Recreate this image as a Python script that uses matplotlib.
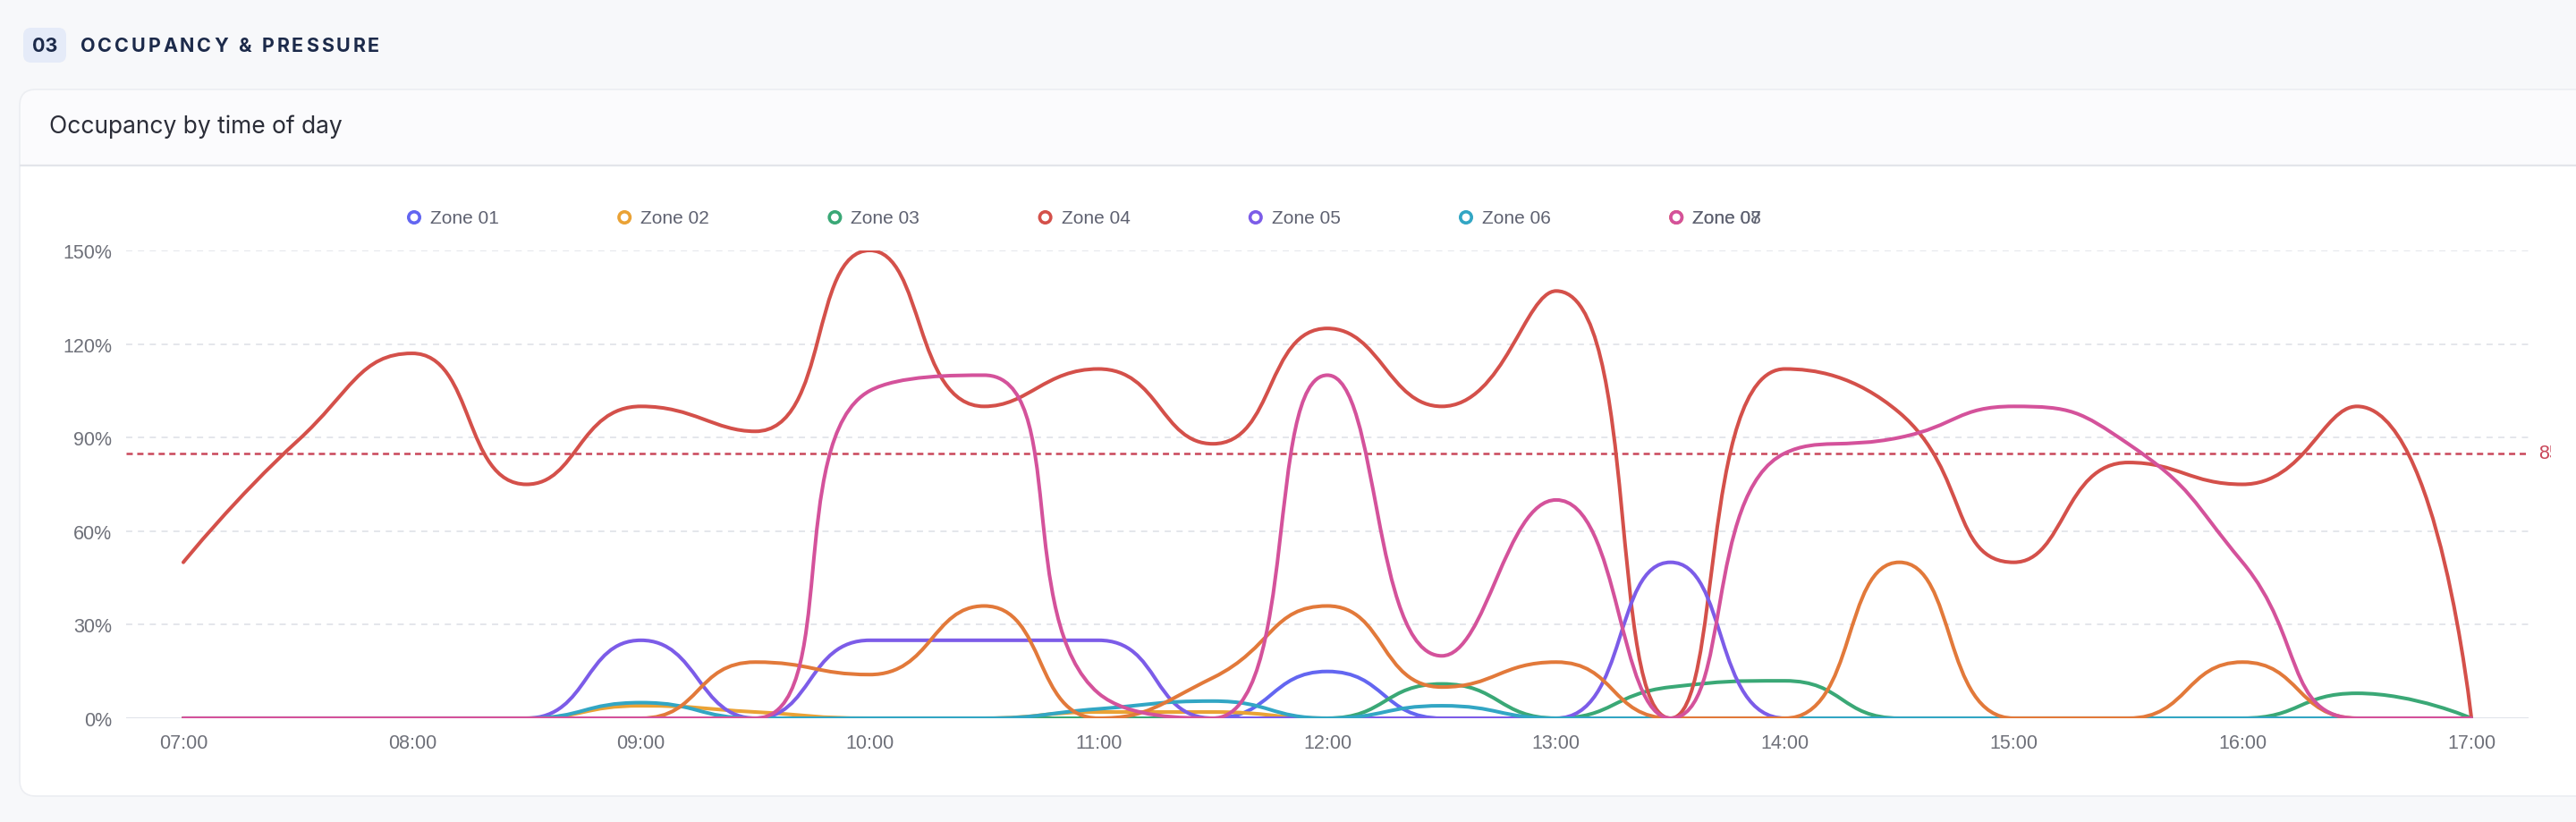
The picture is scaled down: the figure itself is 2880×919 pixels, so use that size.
import matplotlib
matplotlib.use("Agg")
import matplotlib.pyplot as plt
from matplotlib.path import Path
from matplotlib.patches import PathPatch, FancyBboxPatch, Rectangle, Circle
from matplotlib.transforms import Bbox
import numpy as np

# ---------------- data ----------------
times = ["07:00", "07:30", "08:00", "08:30", "09:00", "09:30", "10:00", "10:30",
         "11:00", "11:30", "12:00", "12:30", "13:00", "13:30", "14:00", "14:30",
         "15:00", "15:30", "16:00", "16:30", "17:00"]
zone_names = ["Zone 01", "Zone 02", "Zone 03", "Zone 04", "Zone 05", "Zone 06", "Zone 07", "Zone 08"]
zone_01 = [0, 0, 0, 0, 0, 0, 0, 0, 0, 0, 15, 0, 0, 0, 0, 0, 0, 0, 0, 0, 0]
zone_02 = [0, 0, 0, 0, 4, 2, 0, 0, 2, 2, 0, 0, 0, 0, 0, 0, 0, 0, 0, 0, 0]
zone_03 = [0, 0, 0, 0, 0, 0, 0, 0, 0, 0, 0, 11, 0, 10, 12, 0, 0, 0, 0, 8, 0]
zone_04 = [50, 89, 117, 75, 100, 92, 150, 100, 112, 88, 125, 100, 137, 0, 112, 98, 50, 82, 75, 100, 0]
zone_05 = [0, 0, 0, 0, 25, 0, 25, 25, 25, 0, 0, 0, 0, 50, 0, 0, 0, 0, 0, 0, 0]
zone_06 = [0, 0, 0, 0, 5, 0, 0, 0, 3, 5.5, 0, 4, 0, 0, 0, 0, 0, 0, 0, 0, 0]
zone_07 = [0, 0, 0, 0, 0, 18, 14, 36, 0, 13, 36, 10, 18, 0, 0, 50, 0, 0, 18, 0, 0]
zone_08 = [0, 0, 0, 0, 0, 0, 105, 110, 8, 0, 110, 20, 70, 0, 85, 90, 100, 88, 50, 0, 0]
threshold = 85
y_ticks = [0, 30, 60, 90, 120, 150]

series = [zone_01, zone_02, zone_03, zone_04, zone_05, zone_06, zone_07, zone_08]
colors = ["#6366f1", "#eaa235", "#3aa876", "#d4504a", "#7c5ce8", "#32a6c4", "#e2793a", "#d4529b"]

plt.rcParams["lines.scale_dashes"] = False
CHART_FONT = ["Liberation Sans", "DejaVu Sans"]
TITLE_FONT = ["Inter", "DejaVu Sans"]

W, H = 2880, 920
fig = plt.figure(figsize=(W / 100, H / 100), dpi=100)
fig.patch.set_facecolor("#f7f8fa")

# background axes in pixel coordinates (y downwards)
bg = fig.add_axes([0, 0, 1, 1])
bg.set_xlim(0, W)
bg.set_ylim(H, 0)
bg.axis("off")
bg.set_zorder(0)

# card
bg.add_patch(FancyBboxPatch((22, 101), 2950, 790, boxstyle="round,pad=0,rounding_size=18",
                            facecolor="#fbfbfd", edgecolor="#eceef2", lw=1.2))
bg.add_patch(FancyBboxPatch((23, 187), 2950, 703, boxstyle="round,pad=0,rounding_size=17",
                            facecolor="white", edgecolor="none"))
bg.add_patch(Rectangle((23, 187), 2950, 40, facecolor="white", edgecolor="none"))
bg.plot([22, W], [186, 186], color="#e3e5ea", lw=1.6, solid_capstyle="butt")

# section badge + title
bg.add_patch(FancyBboxPatch((26, 32), 48, 39, boxstyle="round,pad=0,rounding_size=9",
                            facecolor="#e5ebf8", edgecolor="none"))
bg.text(50, 52, "03", ha="center", va="center", fontsize=15.5, fontweight="bold",
        color="#1c2a4a", family=TITLE_FONT)

renderer = fig.canvas.get_renderer()
sec_title = "OCCUPANCY & PRESSURE"
fs = 15.5
widths = []
for ch in sec_title:
    if ch == " ":
        widths.append(fs * 100 / 72 * 0.28)
    else:
        t = bg.text(0, 0, ch, fontsize=fs, fontweight="bold", family=TITLE_FONT)
        widths.append(t.get_window_extent(renderer).width)
        t.remove()
target = 334.0
spacing = (target - sum(widths)) / (len(sec_title) - 1)
xc = 90.0
for ch, w in zip(sec_title, widths):
    if ch != " ":
        bg.text(xc, 52, ch, ha="left", va="center", fontsize=fs, fontweight="bold",
                color="#1c2a4a", family=TITLE_FONT)
    xc += w + spacing

bg.text(55, 142, "Occupancy by time of day", ha="left", va="center", fontsize=19,
        color="#2b2d38", family=TITLE_FONT)

# legend
leg_x0, leg_dx, leg_y = 463, 235.2, 244
slots = [0, 1, 2, 3, 4, 5, 6, 6]
for i, (name, col) in enumerate(zip(zone_names, colors)):
    x = leg_x0 + leg_dx * slots[i]
    bg.add_patch(Circle((x, leg_y), 6.2, facecolor="white", edgecolor=col, lw=2.6, zorder=3 + i))
    bg.text(x + 18, leg_y + 1, name, ha="left", va="center", fontsize=15, color="#5e6170",
            family=CHART_FONT, zorder=3 + i)

# ---------------- chart axes ----------------
left, right, bottom_px, top_px = 141, 2827, 804, 281
ax = fig.add_axes([left / W, (H - bottom_px) / H, (right - left) / W, (bottom_px - top_px) / H])
ax.set_zorder(2)
ax.patch.set_alpha(0)
ax.set_xlim(-0.5, len(times) - 0.5)
ax.set_ylim(0, 150)
for s in ax.spines.values():
    s.set_visible(False)

for v in y_ticks[1:]:
    ax.axhline(v, color="#e4e6eb", lw=1.4, dashes=(5, 4.5), zorder=1)
ax.axhline(0, color="#e0e3ea", lw=1.5, zorder=1)

ax.set_yticks(y_ticks)
ax.set_yticklabels([f"{v}%" for v in y_ticks])
ax.set_xticks(range(0, len(times), 2))
ax.set_xticklabels(times[::2])
ax.tick_params(axis="both", length=0, labelsize=15.5, labelcolor="#6e7079")
ax.tick_params(axis="y", pad=11.5)
ax.tick_params(axis="x", pad=12)
for lab in ax.get_xticklabels() + ax.get_yticklabels():
    lab.set_family(CHART_FONT)

# threshold mark line
ax.axhline(threshold, color="#c9475a", lw=1.8, dashes=(5, 3.6), zorder=2)
thr = ax.annotate(f"{threshold}%", xy=(1, threshold), xycoords=("axes fraction", "data"),
                  xytext=(11, 0), textcoords="offset pixels", ha="left", va="center",
                  fontsize=15.5, color="#c9475a", family=CHART_FONT, annotation_clip=False)
thr.set_clip_on(True)
thr.set_clip_box(Bbox([[0, 0], [2852, H]]))


def echarts_smooth_path(xs, ys, smooth=0.5):
    pts = ax.transData.transform(np.column_stack([xs, ys]))
    verts = [tuple(pts[0])]
    codes = [Path.MOVETO]
    cp0 = tuple(pts[0])
    px, py = pts[0]
    n = len(pts)
    for i in range(1, n):
        x, y = pts[i]
        ncp0 = None
        if i == n - 1:
            cp1 = (x, y)
        else:
            nx, ny = pts[i + 1]
            vx, vy = nx - px, ny - py
            lp = np.hypot(x - px, y - py)
            ln = np.hypot(nx - x, ny - y)
            r = ln / (ln + lp)
            ncx = x + vx * smooth * r
            ncy = y + vy * smooth * r
            ncx = max(min(ncx, max(nx, x)), min(nx, x))
            ncy = max(min(ncy, max(ny, y)), min(ny, y))
            vx, vy = ncx - x, ncy - y
            c1x = x - vx * lp / ln
            c1y = y - vy * lp / ln
            c1x = max(min(c1x, max(px, x)), min(px, x))
            c1y = max(min(c1y, max(py, y)), min(py, y))
            vx, vy = x - c1x, y - c1y
            ncp0 = (x + vx * ln / lp, y + vy * ln / lp)
            cp1 = (c1x, c1y)
        verts += [cp0, cp1, (x, y)]
        codes += [Path.CURVE4] * 3
        cp0 = ncp0
        px, py = x, y
    return Path(ax.transData.inverted().transform(verts), codes)


xs = np.arange(len(times))
for k, (vals, col) in enumerate(zip(series, colors)):
    path = echarts_smooth_path(xs, vals)
    ax.add_patch(PathPatch(path, fill=False, edgecolor=col, lw=2.9, capstyle="round",
                           joinstyle="round", zorder=3 + k))

fig.savefig("out.png", dpi=100, facecolor=fig.get_facecolor())
